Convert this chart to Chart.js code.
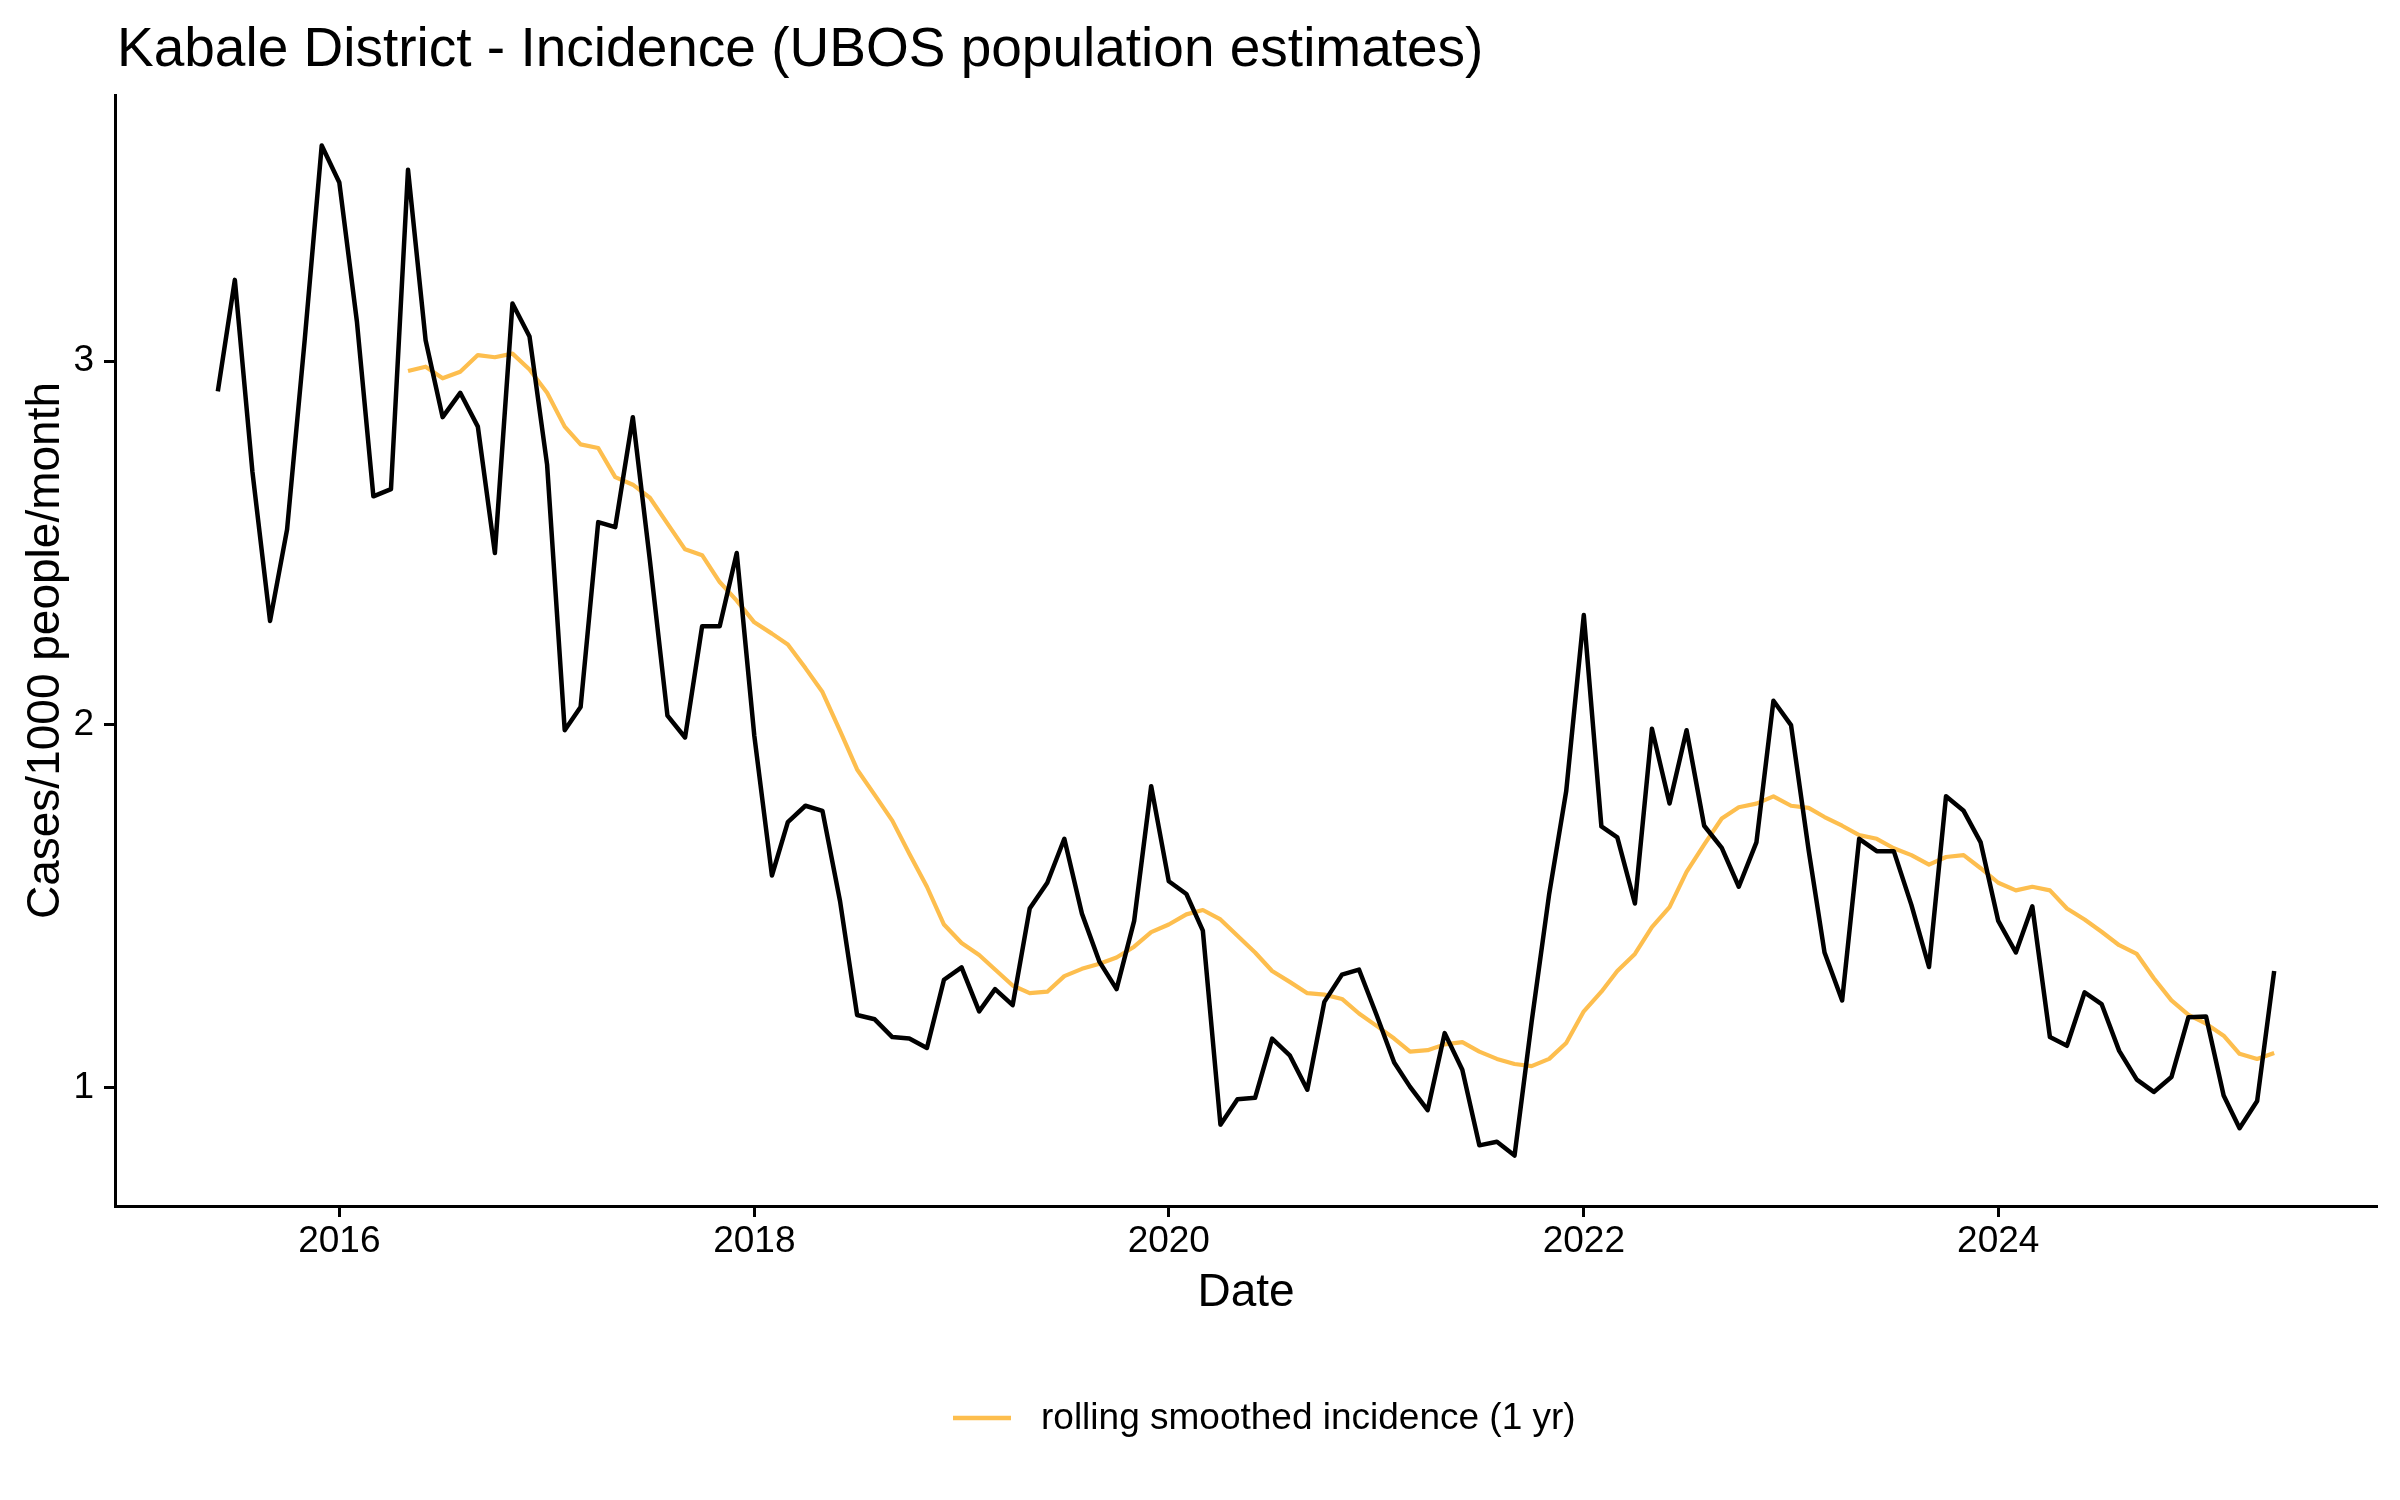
<!DOCTYPE html>
<html>
<head>
<meta charset="utf-8">
<script src="https://cdn.jsdelivr.net/npm/chart.js@4.4.1/dist/chart.umd.min.js"></script>
<style>
  html, body { margin: 0; padding: 0; background: #fff; }
  canvas { display: block; }
</style>
</head>
<body>
<canvas id="chart" width="2400" height="1500"></canvas>
<script>
// monthly series, first month is June 2015
const firstYear = 2015;
const firstMonth = 6;

const incidence = [
    2.917, 3.224, 2.695, 2.285, 2.537, 3.058, 3.594,
    3.492, 3.109, 2.628, 2.648, 3.527, 3.058, 2.846, 2.913, 2.820, 2.472, 3.159, 3.068,
    2.715, 1.984, 2.048, 2.557, 2.543, 2.846, 2.452, 2.024, 1.964, 2.270, 2.270, 2.472,
    1.968, 1.584, 1.731, 1.776, 1.762, 1.513, 1.200, 1.188, 1.139, 1.135, 1.109, 1.297,
    1.331, 1.210, 1.271, 1.227, 1.493, 1.564, 1.685, 1.479, 1.346, 1.271, 1.459, 1.830,
    1.568, 1.533, 1.432, 0.898, 0.968, 0.972, 1.135, 1.089, 0.994, 1.236, 1.311, 1.325,
    1.200, 1.069, 1.002, 0.938, 1.150, 1.049, 0.841, 0.851, 0.813, 1.180, 1.533, 1.816,
    2.301, 1.719, 1.689, 1.507, 1.988, 1.782, 1.984, 1.721, 1.660, 1.553, 1.675, 2.065,
    1.998, 1.654, 1.372, 1.240, 1.685, 1.651, 1.651, 1.503, 1.332, 1.802, 1.762, 1.675,
    1.459, 1.372, 1.499, 1.139, 1.115, 1.262, 1.230, 1.101, 1.022, 0.988, 1.029, 1.194,
    1.196, 0.978, 0.888, 0.963, 1.321,
];

// 1 yr rolling mean, starts May 2016
const rolling = [
    null, null, null, null, null, null, null,
    null, null, null, null, 2.973, 2.985, 2.953, 2.971, 3.017, 3.011, 3.021, 2.977,
    2.913, 2.820, 2.771, 2.761, 2.681, 2.660, 2.624, 2.553, 2.482, 2.466, 2.392, 2.341,
    2.281, 2.250, 2.220, 2.155, 2.089, 1.982, 1.876, 1.806, 1.735, 1.644, 1.553, 1.449,
    1.398, 1.365, 1.325, 1.281, 1.260, 1.264, 1.307, 1.327, 1.341, 1.358, 1.388, 1.428,
    1.449, 1.477, 1.489, 1.463, 1.418, 1.372, 1.321, 1.291, 1.260, 1.256, 1.244, 1.204,
    1.170, 1.135, 1.099, 1.103, 1.119, 1.125, 1.099, 1.079, 1.065, 1.059, 1.079, 1.123,
    1.210, 1.264, 1.321, 1.368, 1.442, 1.497, 1.594, 1.669, 1.741, 1.772, 1.782, 1.802,
    1.776, 1.770, 1.745, 1.721, 1.695, 1.685, 1.659, 1.640, 1.614, 1.635, 1.640, 1.604,
    1.564, 1.543, 1.553, 1.543, 1.493, 1.463, 1.429, 1.392, 1.368, 1.301, 1.240, 1.200,
    1.176, 1.143, 1.093, 1.079, 1.095,
];

const yearTicks = [2016, 2018, 2020, 2022, 2024];
const yTicks = [1, 2, 3];

const titleText = "Kabale District - Incidence (UBOS population estimates)";
const legendText = "rolling smoothed incidence (1 yr)";
const FONT = '"Liberation Sans", Arial, Helvetica, sans-serif';
const ORANGE = "#fdbe4e";

const monthTime = (i) => Date.UTC(firstYear, firstMonth - 1 + i, 1);
const toPoints = (arr) => arr.map((v, i) => ({ x: monthTime(i), y: v }));

// ggplot style 5% expansion
const xFirst = monthTime(0);
const xLast = monthTime(incidence.length - 1);
const xPad = (xLast - xFirst) * 0.05;
const allY = incidence.concat(rolling.filter((v) => v !== null));
const yMin = Math.min(...allY);
const yMax = Math.max(...allY);
const yPad = (yMax - yMin) * 0.05;

// title over the panel and a ggplot-like legend under the axis
const decorPlugin = {
    id: "decor",
    afterDraw(chart) {
        const ctx = chart.ctx;
        ctx.save();
        ctx.fillStyle = "#000";
        ctx.textAlign = "left";
        ctx.font = `55px ${FONT}`;
        ctx.textBaseline = "alphabetic";
        ctx.fillText(titleText, chart.chartArea.left + 2, 66);

        const keyY = 1418;
        ctx.strokeStyle = ORANGE;
        ctx.lineWidth = 4.5;
        ctx.lineCap = "butt";
        ctx.beginPath();
        ctx.moveTo(953, keyY);
        ctx.lineTo(1011, keyY);
        ctx.stroke();

        ctx.font = `37px ${FONT}`;
        ctx.textBaseline = "middle";
        ctx.fillText(legendText, 1041, keyY + 1);
        ctx.restore();
    },
};

const axisLine = { display: true, color: "#000", width: 3 };
const tickGrid = {
    drawOnChartArea: false,
    drawTicks: true,
    tickLength: 11,
    tickColor: "#000",
    tickWidth: 3,
};

new Chart(document.getElementById("chart").getContext("2d"), {
    type: "line",
    data: {
        datasets: [
            {
                label: "incidence",
                data: toPoints(incidence),
                borderColor: "#000000",
                borderWidth: 4.5,
                pointRadius: 0,
                tension: 0,
                borderJoinStyle: "round",
            },
            {
                label: legendText,
                data: toPoints(rolling),
                borderColor: ORANGE,
                borderWidth: 4.2,
                pointRadius: 0,
                tension: 0,
                spanGaps: false,
                borderJoinStyle: "round",
            },
        ],
    },
    options: {
        responsive: false,
        animation: false,
        devicePixelRatio: 1,
        layout: {
            padding: { top: 95, right: 23, bottom: 109, left: 0 },
        },
        plugins: {
            title: { display: false },
            legend: { display: false },
            tooltip: { enabled: false },
        },
        scales: {
            x: {
                type: "linear",
                min: xFirst - xPad,
                max: xLast + xPad,
                border: axisLine,
                grid: tickGrid,
                afterBuildTicks: (scale) => {
                    scale.ticks = yearTicks.map((y) => ({ value: Date.UTC(y, 0, 1) }));
                },
                afterFit: (scale) => {
                    scale.height = 185;
                },
                ticks: {
                    autoSkip: false,
                    maxRotation: 0,
                    padding: 3,
                    color: "#000",
                    font: { family: FONT, size: 37 },
                    callback: (value) => new Date(value).getUTCFullYear(),
                },
                title: {
                    display: true,
                    text: "Date",
                    color: "#000",
                    font: { family: FONT, size: 46, lineHeight: 1.2 },
                    padding: { top: 0, bottom: 70 },
                },
            },
            y: {
                type: "linear",
                min: yMin - yPad,
                max: yMax + yPad,
                border: axisLine,
                grid: tickGrid,
                afterBuildTicks: (scale) => {
                    scale.ticks = yTicks.map((v) => ({ value: v }));
                },
                afterFit: (scale) => {
                    scale.width = 115;
                },
                ticks: {
                    padding: 10,
                    color: "#000",
                    font: { family: FONT, size: 37 },
                },
                title: {
                    display: true,
                    text: "Cases/1000 people/month",
                    color: "#000",
                    font: { family: FONT, size: 46, lineHeight: 1.2 },
                    padding: { top: 19, bottom: 0 },
                },
            },
        },
    },
    plugins: [decorPlugin],
});
</script>
</body>
</html>
